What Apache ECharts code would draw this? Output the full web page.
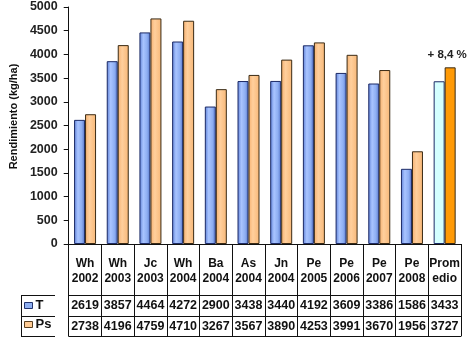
<!DOCTYPE html>
<html>
<head>
<meta charset="utf-8">
<script src="https://cdn.jsdelivr.net/npm/echarts@6/dist/echarts.min.js"></script>
<style>
  html, body { margin: 0; padding: 0; background: #fff; }
  #chart { width: 470px; height: 341px; }
</style>
</head>
<body>
<div id="chart"></div>
<script>
// Trial entries (cultivar + year) and the overall average column
const categories = ['Wh\n2002', 'Wh\n2003', 'Jc\n2003', 'Wh\n2004', 'Ba\n2004', 'As\n2004',
  'Jn\n2004', 'Pe\n2005', 'Pe\n2006', 'Pe\n2007', 'Pe\n2008', 'Prom\nedio'];
// Yield in kg/ha
const seriesT = [2619, 3857, 4464, 4272, 2900, 3438, 3440, 4192, 3609, 3386, 1586, 3433];
const seriesPs = [2738, 4196, 4759, 4710, 3267, 3567, 3890, 4253, 3991, 3670, 1956, 3727];
const yTicks = { min: 0, max: 5000, interval: 500 };
const avgLabel = '+ 8,4 %';

const FONT = 'Liberation Sans, Arial, sans-serif';
const blueFill = {
  type: 'linear', x: 0, y: 0, x2: 1, y2: 0,
  colorStops: [
    { offset: 0, color: '#5d7fd6' },
    { offset: 0.35, color: '#a9c4ff' },
    { offset: 0.7, color: '#8eaef2' },
    { offset: 1, color: '#5473c8' }
  ]
};
const orangeFill = {
  type: 'linear', x: 0, y: 0, x2: 1, y2: 0,
  colorStops: [
    { offset: 0, color: '#f5b070' },
    { offset: 0.4, color: '#ffcf9c' },
    { offset: 1, color: '#f7b777' }
  ]
};

const last = categories.length - 1;
const dataT = seriesT.map((v, i) => i === last
  ? { value: v, itemStyle: { color: '#d4ffff' } } : v);
const dataPs = seriesPs.map((v, i) => i === last
  ? { value: v, itemStyle: { color: '#ff9a06' },
      label: { show: true, position: 'top', formatter: avgLabel, offset: [-3, -2],
               fontFamily: FONT, fontWeight: 'bold', fontSize: 11.5, color: '#222' } } : v);

const valueAxis = (data, offset, showLabel) => ({
  type: 'category', data, position: 'bottom', offset,
  axisLine: { show: true, lineStyle: { color: '#111', width: 1 } },
  axisTick: { show: false },
  axisLabel: { show: showLabel, interval: 0, margin: 4, color: '#111',
               fontFamily: FONT, fontWeight: 'bold', fontSize: 12.5 }
});

const chart = echarts.init(document.getElementById('chart'));
chart.setOption({
  animation: false,
  backgroundColor: '#fff',
  grid: { left: 55, right: 9, top: 7, bottom: 97 },
  legend: {
    orient: 'vertical', left: 24, top: 299, itemGap: 6,
    itemWidth: 8, itemHeight: 6, icon: 'rect', padding: 0,
    textStyle: { fontFamily: FONT, fontWeight: 'bold', fontSize: 13, color: '#111', padding: [0, 0, 0, -2] },
    data: [
      { name: 'T', itemStyle: { color: '#8fb0f2', borderColor: '#22336e', borderWidth: 1 } },
      { name: 'Ps', itemStyle: { color: '#ffcb94', borderColor: '#5a4020', borderWidth: 1 } }
    ]
  },
  xAxis: [
    {
      type: 'category', data: categories, position: 'bottom',
      axisLine: { show: true, lineStyle: { color: '#111', width: 1 } },
      axisTick: { show: true, alignWithLabel: false, length: 92, lineStyle: { color: '#111', width: 1 } },
      axisLabel: { interval: 0, margin: 12, lineHeight: 15, color: '#111',
                   fontFamily: FONT, fontWeight: 'bold', fontSize: 12 }
    },
    valueAxis(seriesT, 51, true),
    valueAxis(seriesPs, 72, true),
    valueAxis(seriesT, 92, false)
  ],
  yAxis: {
    type: 'value', min: yTicks.min, max: yTicks.max, interval: yTicks.interval,
    name: 'Rendimiento (kg/ha)', nameLocation: 'middle', nameGap: 46,
    nameTextStyle: { fontFamily: FONT, fontWeight: 'bold', fontSize: 11, color: '#111',
                     padding: [0, 0, 0, 18] },
    axisLine: { show: true, lineStyle: { color: '#111', width: 1 } },
    axisTick: { show: true, length: 5, lineStyle: { color: '#111' } },
    splitLine: { show: false },
    axisLabel: { margin: 11, color: '#222', fontFamily: FONT, fontWeight: 'bold', fontSize: 12.5,
                 formatter: v => String(v) }
  },
  series: [
    {
      name: 'T', type: 'bar', xAxisIndex: 0, data: dataT,
      barWidth: 11, barGap: '0%',
      itemStyle: { color: blueFill, borderColor: '#1c2a66', borderWidth: 1 }
    },
    {
      name: 'Ps', type: 'bar', xAxisIndex: 0, data: dataPs,
      barWidth: 11, barGap: '0%',
      itemStyle: { color: orangeFill, borderColor: '#3a2a14', borderWidth: 1 }
    }
  ],
  graphic: [
    // borders of the legend cell to the left of the value rows
    { type: 'line', shape: { x1: 21, y1: 295.5, x2: 55, y2: 295.5 }, style: { stroke: '#111', lineWidth: 1 } },
    { type: 'line', shape: { x1: 21, y1: 316.5, x2: 55, y2: 316.5 }, style: { stroke: '#111', lineWidth: 1 } },
    { type: 'line', shape: { x1: 21, y1: 336.5, x2: 55, y2: 336.5 }, style: { stroke: '#111', lineWidth: 1 } },
    { type: 'line', shape: { x1: 21.5, y1: 295, x2: 21.5, y2: 337 }, style: { stroke: '#111', lineWidth: 1 } }
  ]
});
</script>
</body>
</html>
